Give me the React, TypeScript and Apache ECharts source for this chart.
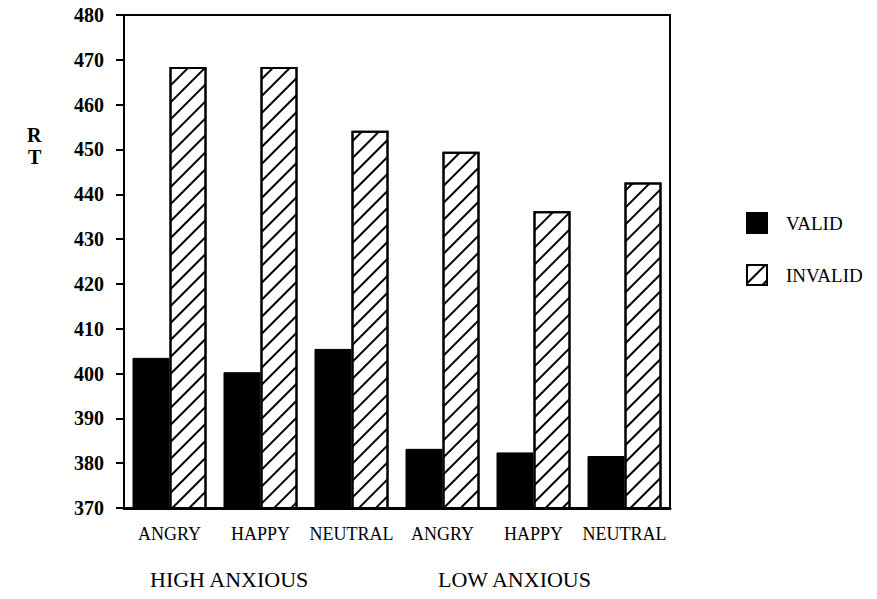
import React, { useEffect, useRef } from "react";
import * as echarts from "echarts";

const categories = ["ANGRY", "HAPPY", "NEUTRAL", "ANGRY", "HAPPY", "NEUTRAL"];
const validValues = [403.5, 400.3, 405.5, 383.2, 382.4, 381.6];
const invalidValues = [468.4, 468.4, 454.2, 449.5, 436.2, 442.6];
const seriesNames = ["VALID", "INVALID"];
const groupLabels = ["HIGH ANXIOUS", "LOW ANXIOUS"];
const yTitle = ["R", "T"];

const FONT = "Liberation Serif";

export default function App() {
  const ref = useRef<HTMLDivElement>(null);
  useEffect(() => {
    if (!ref.current) return;
    const chart = echarts.init(ref.current, null, { renderer: "svg" });
    chart.setOption({
      animation: false,
      backgroundColor: "#fff",
      textStyle: { fontFamily: FONT },
      grid: {
        left: 124,
        top: 15,
        right: 207,
        bottom: 91,
        show: true,
        borderColor: "#000",
        borderWidth: 2,
        containLabel: false,
      },
      legend: {
        data: seriesNames,
        orient: "vertical",
        icon: "rect",
        left: 746,
        top: 212,
        padding: 0,
        itemWidth: 20,
        itemHeight: 20,
        itemGap: 30,
        textStyle: {
          fontFamily: FONT,
          fontSize: 19,
          color: "#000",
          padding: [0, 0, 0, 14],
        },
      },
      xAxis: {
        type: "category",
        data: categories,
        axisLine: { lineStyle: { color: "#000", width: 3 } },
        axisTick: { alignWithLabel: true, length: 8, lineStyle: { color: "#000", width: 2 } },
        axisLabel: { fontFamily: FONT, fontSize: 18, color: "#000", margin: 17, interval: 0 },
        splitLine: { show: false },
      },
      yAxis: {
        type: "value",
        min: 370,
        max: 480,
        interval: 10,
        axisLine: { show: true, lineStyle: { color: "#000", width: 2 } },
        axisTick: { show: true, length: 8, lineStyle: { color: "#000", width: 2 } },
        axisLabel: { fontFamily: FONT, fontSize: 20, fontWeight: "bold", color: "#000", margin: 20 },
        splitLine: { show: false },
      },
      series: [
        {
          name: seriesNames[0],
          type: "bar",
          data: validValues,
          barWidth: 37,
          barGap: "0%",
          itemStyle: { color: "#000", borderColor: "#000", borderWidth: 1 },
        },
        {
          name: seriesNames[1],
          type: "bar",
          data: invalidValues,
          barWidth: 37,
          barGap: "0%",
          itemStyle: {
            color: "#fff",
            borderColor: "#000",
            borderWidth: 2,
            decal: {
              symbol: "rect",
              symbolSize: 1,
              color: "#000",
              backgroundColor: "#fff",
              dashArrayX: [1, 0],
              dashArrayY: [2, 10],
              rotation: -Math.PI / 4,
            },
          },
        },
      ],
      graphic: [
        { type: "text", left: 27, top: 125, style: { text: yTitle[0], fontFamily: FONT, fontSize: 20, fontWeight: "bold", fill: "#000" } },
        { type: "text", left: 28, top: 147, style: { text: yTitle[1], fontFamily: FONT, fontSize: 20, fontWeight: "bold", fill: "#000" } },
        { type: "text", left: 150, top: 568, style: { text: groupLabels[0], fontFamily: FONT, fontSize: 22, fill: "#000" } },
        { type: "text", left: 438, top: 568, style: { text: groupLabels[1], fontFamily: FONT, fontSize: 22, fill: "#000" } },
      ],
    });
    return () => chart.dispose();
  }, []);
  return (
    <div
      ref={ref}
      style={{ position: "fixed", left: 0, top: 0, width: 877, height: 599 }}
    />
  );
}
